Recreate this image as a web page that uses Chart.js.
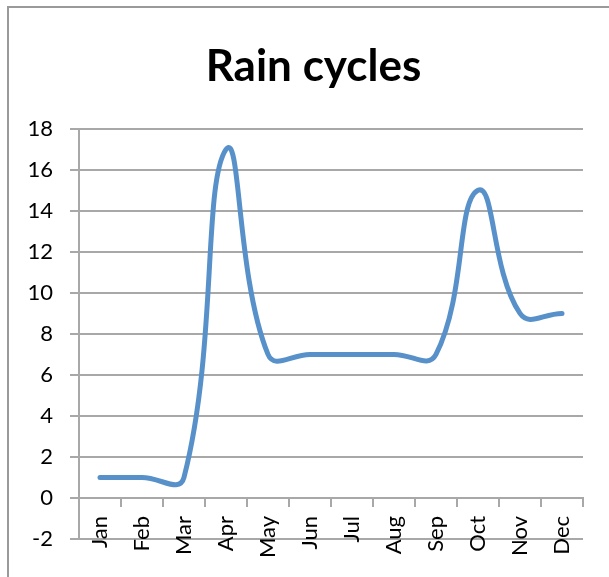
<!DOCTYPE html>
<html>
<head>
<meta charset="utf-8">
<title>Rain cycles</title>
<script src="https://cdn.jsdelivr.net/npm/chart.js@4.4.0/dist/chart.umd.min.js"></script>
<style>
    html, body { margin: 0; padding: 0; background: #fff; }
    #wrap { position: relative; width: 609px; height: 577px; }
</style>
</head>
<body>
<div id="wrap"><canvas id="rainChart"></canvas></div>
<script>
// data
const months = ["Jan", "Feb", "Mar", "Apr", "May", "Jun", "Jul", "Aug", "Sep", "Oct", "Nov", "Dec"];
const rainValues = [1, 1, 1, 17, 7, 7, 7, 7, 7, 15, 9, 9];
const yMin = -2;
const yMax = 18;
const yStep = 2;

const gridGrey = "#a8a8a8";
const lineBlue = "#5891c9";

// grey frame around the whole chart (only left and top edges show)
// and nudge the title so it sits where the original one is
const chartFrame = {
    id: "chartFrame",
    afterLayout(chart) {
        if (chart.titleBlock) {
            chart.titleBlock.left += 36;
        }
    },
    beforeDraw(chart) {
        const ctx = chart.ctx;
        ctx.save();
        ctx.fillStyle = "#fff";
        ctx.fillRect(0, 0, chart.width, chart.height);
        ctx.strokeStyle = "#9a9a9a";
        ctx.lineWidth = 2;
        ctx.strokeRect(8, 7, chart.width + 20, chart.height + 20);
        ctx.restore();
    }
};

const ctx = document.getElementById("rainChart").getContext("2d");

const rainChart = new Chart(ctx, {
    type: "line",
    data: {
        labels: months,
        datasets: [
            {
                label: "Rain",
                data: rainValues,
                borderColor: lineBlue,
                backgroundColor: lineBlue,
                borderWidth: 5,
                borderCapStyle: "round",
                borderJoinStyle: "round",
                pointRadius: 0,
                tension: 0.45,
                fill: false,
                clip: false
            }
        ]
    },
    options: {
        responsive: true,
        maintainAspectRatio: false,
        animation: false,
        layout: {
            padding: { left: 8, right: 26, top: 0, bottom: 38 }
        },
        plugins: {
            legend: { display: false },
            tooltip: { enabled: false },
            title: {
                display: true,
                text: "Rain cycles",
                color: "#000",
                font: { family: "Lato", size: 44, weight: "bold" },
                padding: { top: 40, bottom: 36 }
            }
        },
        scales: {
            x: {
                type: "category",
                offset: true,
                position: { y: 0 },
                grid: {
                    offset: true,
                    drawOnChartArea: false,
                    drawTicks: true,
                    tickLength: 8,
                    color: gridGrey,
                    lineWidth: 2
                },
                border: { display: true, color: gridGrey, width: 2 },
                ticks: {
                    color: "#000",
                    font: { family: "Lato", size: 22 },
                    minRotation: 90,
                    maxRotation: 90,
                    autoSkip: false,
                    padding: 10
                }
            },
            y: {
                min: yMin,
                max: yMax,
                grid: {
                    color: gridGrey,
                    lineWidth: 2,
                    tickLength: 9
                },
                border: { display: true, color: gridGrey, width: 2 },
                ticks: {
                    stepSize: yStep,
                    color: "#000",
                    font: { family: "Lato", size: 22 },
                    padding: 17
                },
                afterFit: (scale) => {
                    scale.width = 71;
                }
            }
        }
    },
    plugins: [chartFrame]
});
</script>
</body>
</html>
